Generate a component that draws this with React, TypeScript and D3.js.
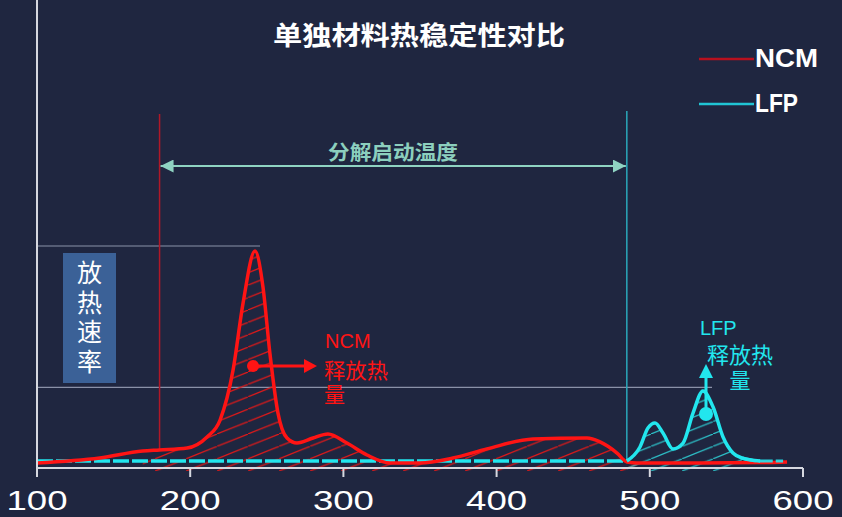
import React from "react";
import * as d3 from "d3";

const W = 842;
const H = 517;

// Temperature (°C) and relative heat release rate
const ncmTemp = [100, 141, 169, 180, 198, 211, 219.5, 228, 234.5, 242.3, 247.5, 252, 257.3, 263.2, 269.7, 280.2, 289.9, 302.3, 315.4, 330.4, 350, 371.5, 393.7, 423.8, 459, 467.5, 478.6, 485.1, 491.6, 532.8, 571.9, 589.6];
const ncmRate = [2.3, 4.6, 7.8, 8.3, 9.2, 14.3, 22.1, 45.2, 76, 100, 83.4, 53, 25.3, 13.8, 11.5, 13.8, 15.7, 11.5, 6, 2.3, 2.3, 4.6, 8.8, 13.4, 13.8, 12, 6.9, 2.8, 2.3, 2.3, 2.5, 2.8];

const lfpTemp = [100, 300, 485, 493.6, 498.8, 503.4, 508.6, 515.1, 521.7, 528.2, 534.7, 541.3, 547.8, 554.3, 560.2, 572, 587];
const lfpRate = [3.2, 3.2, 3.2, 9.7, 18.4, 20.7, 16.1, 8.8, 11.5, 25.3, 35.5, 28.1, 14.3, 6.9, 4.6, 3.2, 3.2];

const xTicks = [100, 200, 300, 400, 500, 600];
const seriesNames = ["NCM", "LFP"];
const onsetTemps = [180, 485];
const refRates = [100, 37];
const title = "单独材料热稳定性对比";
const rangeLabel = "分解启动温度";
const yLabel = ["放", "热", "速", "率"];

const BG = "#1f2640";
const RED = "#ff1414";
const CYAN = "#22e6ee";

export default function App() {
  const x = d3.scaleLinear().domain([100, 600]).range([37, 803]);
  const y = d3.scaleLinear().domain([0, 100]).range([468, 251]);

  const ncm = ncmTemp.map((t, i) => ({ t, v: ncmRate[i] }));
  const lfp = lfpTemp.map((t, i) => ({ t, v: lfpRate[i] }));

  const line = d3
    .line<{ t: number; v: number }>()
    .x((d) => x(d.t))
    .y((d) => y(d.v))
    .curve(d3.curveMonotoneX);

  const area = d3
    .area<{ t: number; v: number }>()
    .x((d) => x(d.t))
    .y0(471)
    .y1((d) => y(d.v))
    .curve(d3.curveMonotoneX);

  const ncmHatch = ncm.filter((d) => d.t >= 160 && d.t <= 492);
  const lfpHatch = lfp.filter((d) => d.t >= 485 && d.t <= 562);
  const lfpBase = lfp.filter((d) => d.t <= 485);
  const lfpPeak = lfp.filter((d) => d.t >= 485 && d.t <= 572);
  const lfpTail = lfp.filter((d) => d.t >= 560);

  const xa = x(onsetTemps[0]);
  const xb = x(onsetTemps[1]);

  return (
    <svg
      width={W}
      height={H}
      style={{ position: "absolute", left: 0, top: 0, display: "block" }}
      fontFamily="'Noto Sans CJK SC', 'Liberation Sans', sans-serif"
    >
      <defs>
        <pattern id="hatchRed" patternUnits="userSpaceOnUse" width={31} height={12.4}>
          <line x1={-1} y1={12.8} x2={32} y2={-0.4} stroke="#e01818" strokeWidth={1.2} />
        </pattern>
        <pattern id="hatchCyan" patternUnits="userSpaceOnUse" width={31} height={12.4}>
          <line x1={-1} y1={12.8} x2={32} y2={-0.4} stroke="#2cc0c8" strokeWidth={1.2} />
        </pattern>
        <marker id="arrStart" viewBox="0 0 10 10" refX={10} refY={5} markerWidth={6.5} markerHeight={6.5} orient="auto-start-reverse">
          <path d="M0,0 L10,5 L0,10 z" fill="#8fd3c2" />
        </marker>
      </defs>
      <rect x={0} y={0} width={W} height={H} fill={BG} />

      {/* title */}
      <text x={419} y={45} textAnchor="middle" fontSize={26} fontWeight="bold" fill="#ffffff" textLength={292} lengthAdjust="spacingAndGlyphs">
        {title}
      </text>

      {/* legend */}
      <line x1={699} x2={754} y1={59} y2={59} stroke="#b8101e" strokeWidth={2.5} />
      <text x={755} y={67} fontSize={26} fontWeight="bold" fill="#fff" fontFamily="'Liberation Sans', Arial, sans-serif" textLength={63} lengthAdjust="spacingAndGlyphs">
        {seriesNames[0]}
      </text>
      <line x1={699} x2={754} y1={104} y2={104} stroke="#20c4d4" strokeWidth={2.5} />
      <text x={755} y={112} fontSize={26} fontWeight="bold" fill="#fff" fontFamily="'Liberation Sans', Arial, sans-serif" textLength={43} lengthAdjust="spacingAndGlyphs">
        {seriesNames[1]}
      </text>

      {/* reference horizontal lines */}
      <line x1={37} x2={260} y1={y(refRates[0]) - 5} y2={y(refRates[0]) - 5} stroke="#8a91a8" strokeWidth={1.2} />
      <line x1={37} x2={712} y1={y(refRates[1]) - 0.3} y2={y(refRates[1]) - 0.3} stroke="#8a91a8" strokeWidth={1.2} />

      {/* onset lines */}
      <line x1={xa} x2={xa} y1={114} y2={451} stroke="#b01828" strokeWidth={1.5} />
      <line x1={xb} x2={xb} y1={111} y2={461} stroke="#2aa8ba" strokeWidth={1.5} />

      {/* range arrow */}
      <line x1={xa + 1} x2={xb - 1} y1={166} y2={166} stroke="#8fd3c2" strokeWidth={2} markerStart="url(#arrStart)" markerEnd="url(#arrStart)" />
      <text x={393} y={160} textAnchor="middle" fontSize={20} fontWeight="bold" fill="#8ccfbe" textLength={130} lengthAdjust="spacingAndGlyphs">
        {rangeLabel}
      </text>

      {/* y label box */}
      <rect x={63} y={253} width={53} height={130} fill="#3b6197" />
      {yLabel.map((c, i) => (
        <text key={c} x={89.5} y={282 + i * 29.5} textAnchor="middle" fontSize={25} fill="#fff">
          {c}
        </text>
      ))}

      {/* hatch areas */}
      <path d={area(ncmHatch) || ""} fill="url(#hatchRed)" />
      <path d={area(lfpHatch) || ""} fill="url(#hatchCyan)" />

      {/* LFP baseline (dashed) */}
      <path d={line(lfpBase) || ""} fill="none" stroke={CYAN} strokeWidth={3.5} strokeDasharray="16 3" />

      {/* NCM curve */}
      <path d={line(ncm) || ""} fill="none" stroke={RED} strokeWidth={3.5} strokeLinejoin="round" />

      {/* LFP curve */}
      <path d={line(lfpTail) || ""} fill="none" stroke={CYAN} strokeWidth={3} strokeDasharray="14 3" opacity={0.9} />
      <path d={line(lfpPeak) || ""} fill="none" stroke={CYAN} strokeWidth={3.5} strokeLinejoin="round" />

      {/* NCM annotation */}
      <circle cx={253} cy={366} r={6} fill={RED} />
      <line x1={253} x2={306} y1={366} y2={366} stroke={RED} strokeWidth={3} />
      <path d="M304,359 L317,366 L304,373 Z" fill={RED} />
      <text x={325} y={348} fontSize={20} fill={RED} fontFamily="'Liberation Sans', Arial, sans-serif">NCM</text>
      <text x={324} y={378} fontSize={21} fill={RED} textLength={64} lengthAdjust="spacingAndGlyphs">释放热</text>
      <text x={324} y={402} fontSize={21} fill={RED}>量</text>

      {/* LFP annotation */}
      <circle cx={706} cy={414} r={7} fill={CYAN} />
      <line x1={706} x2={706} y1={414} y2={376} stroke={CYAN} strokeWidth={3} />
      <path d="M699,378 L706,364 L713,378 Z" fill={CYAN} />
      <text x={700} y={335} fontSize={20} fill={CYAN} fontFamily="'Liberation Sans', Arial, sans-serif">LFP</text>
      <text x={707} y={363} fontSize={22} fill={CYAN} textLength={66} lengthAdjust="spacingAndGlyphs">释放热</text>
      <text x={740} y={388} fontSize={21} textAnchor="middle" fill={CYAN}>量</text>

      {/* axes */}
      <line x1={37} x2={37} y1={0} y2={477} stroke="#d6d8e0" strokeWidth={2} />
      <line x1={37} x2={803} y1={468} y2={468} stroke="#d6d8e0" strokeWidth={2} />
      {xTicks.map((t) => (
        <g key={t}>
          <line x1={x(t)} x2={x(t)} y1={468} y2={477} stroke="#d6d8e0" strokeWidth={2} />
          <text
            x={x(t)}
            y={510}
            textAnchor="middle"
            fontSize={28}
            fill="#ffffff"
            fontFamily="'Liberation Sans', Arial, sans-serif"
            textLength={61}
            lengthAdjust="spacingAndGlyphs"
          >
            {t}
          </text>
        </g>
      ))}
    </svg>
  );
}
